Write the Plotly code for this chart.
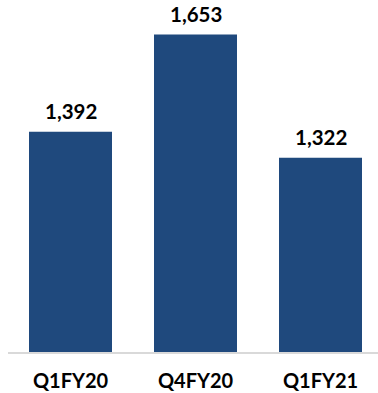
import plotly.graph_objects as go

# Quarterly figures
quarters = ["Q1FY20", "Q4FY20", "Q1FY21"]
values = [1392, 1653, 1322]

bar_color = "#1F497D"
font_family = "Lato, 'Open Sans', sans-serif"

fig = go.Figure(
    go.Bar(
        x=quarters,
        y=values,
        width=0.664,
        marker=dict(color=bar_color, line=dict(width=0)),
        hoverinfo="skip",
    )
)

# Value labels above each bar
for q, v in zip(quarters, values):
    fig.add_annotation(
        x=q,
        y=v,
        text=f"<b>{v:,}</b>",
        showarrow=False,
        yanchor="bottom",
        yshift=7,
        font=dict(family=font_family, size=20.5, color="#000000"),
    )

fig.update_layout(
    width=378,
    height=393,
    margin=dict(l=8, r=0, t=0, b=41),
    plot_bgcolor="white",
    paper_bgcolor="white",
    showlegend=False,
    xaxis=dict(
        range=[-0.5, 2.46],
        automargin=False,
        showline=True,
        linecolor="#D9D9D9",
        linewidth=2,
        showgrid=False,
        zeroline=False,
        ticks="",
        ticklabelstandoff=10,
        tickfont=dict(family=font_family, size=20, color="#000000", weight="bold"),
        fixedrange=True,
    ),
    yaxis=dict(
        range=[800, 1746],
        visible=False,
        automargin=False,
        showgrid=False,
        zeroline=False,
        fixedrange=True,
    ),
)

fig.write_html("out.html")
